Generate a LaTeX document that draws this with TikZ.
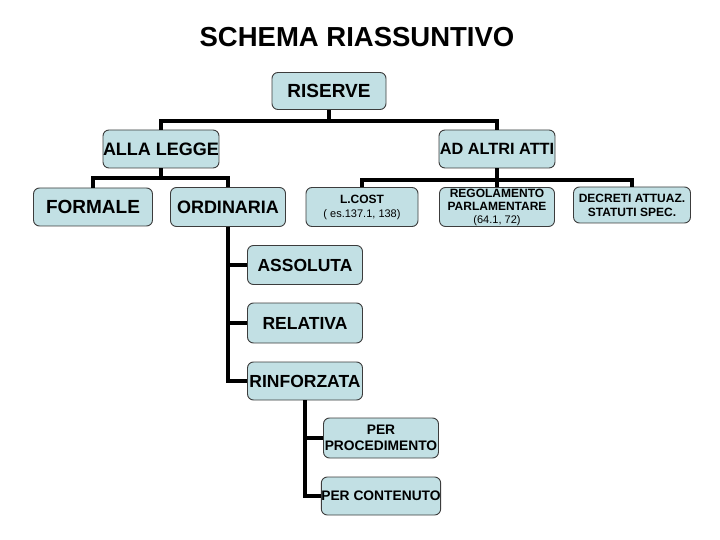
\documentclass[tikz,border=0pt]{standalone}
\usepackage{fontspec}
\setmainfont{Liberation Sans}
\usetikzlibrary{positioning}
\definecolor{boxfill}{RGB}{194,224,228}
\definecolor{boxline}{RGB}{60,60,60}
\newcommand{\fsz}[1]{\fontsize{#1}{#1}\selectfont}

\begin{document}
\begin{tikzpicture}[x=1pt, y=-1pt,
    box/.style={draw=boxline, line width=0.9pt, fill=boxfill, rounded corners=6pt,
                inner xsep=0pt, inner ysep=1pt, align=center,
                minimum width=115pt, minimum height=38pt},
    big/.style={box, font=\fsz{18}\bfseries},
    small/.style={box, font=\fsz{12}\bfseries},
    tree/.style={draw=black, line width=3.2pt}
  ]
  \useasboundingbox (0,0) rectangle (720,540);

  % title
  \node (title) at (357,37) {\fsz{27.5}\bfseries SCHEMA RIASSUNTIVO};

  % ===== top levels =====
  \node[big, font=\fsz{19}\bfseries, minimum width=114pt, minimum height=37pt] (riserve) at (329,91) {RISERVE};
  \node[big] (legge) at (161,149) {ALLA LEGGE};
  \node[big, font=\fsz{16.3}\bfseries, minimum width=116pt] (altri) at (497,149) {AD ALTRI ATTI};

  % ===== alla legge =====
  \node[big, font=\fsz{19}\bfseries, minimum width=119pt] (formale) at (93,207) {FORMALE};
  \node[big, minimum height=39pt] (ordinaria) at (228,207) {ORDINARIA};

  % ===== ad altri atti =====
  \node[small, minimum width=112pt, minimum height=39pt] (lcost) at (362,207)
    {L.COST\\[2pt]{\fsz{11}\mdseries ( es.137.1, 138)}};
  \node[small, minimum height=39pt] (regol) at (497,207)
    {REGOLAMENTO\\[1pt]PARLAMENTARE\\[1pt]{\fsz{11}\mdseries (64.1, 72)}};
  \node[small, minimum width=117pt, minimum height=36pt] (decreti) at (632,205)
    {DECRETI ATTUAZ.\\[2pt]STATUTI SPEC.};

  % ===== ordinaria =====
  \node[big, font=\fsz{17.5}\bfseries, minimum height=39pt] (assoluta) at (305,265) {ASSOLUTA};
  \node[big, font=\fsz{17.5}\bfseries, minimum height=40pt] (relativa) at (305,323) {RELATIVA};
  \node[big, font=\fsz{17.5}\bfseries] (rinforzata) at (305,381) {RINFORZATA};

  % ===== rinforzata =====
  \node[small, font=\fsz{13.8}\bfseries, minimum height=40pt] (perproc) at (381,438) {PER\\[2pt]PROCEDIMENTO};
  \node[small, font=\fsz{13.8}\bfseries] (percont) at (381,496) {PER CONTENUTO};

  % connectors
  \coordinate (busA) at (329,121);
  \coordinate (busB) at (161,178);
  \coordinate (busC) at (497,180);
  \draw[tree] (riserve.south) -- (busA) -| (legge.north);
  \draw[tree] (busA) -| (altri.north);
  \draw[tree] (legge.south) -- (busB) -| (formale.north);
  \draw[tree] (busB) -| (ordinaria.north);
  \draw[tree] (altri.south) -- (busC) -| (lcost.north);
  \draw[tree] (busC) -- (regol.north);
  \draw[tree] (busC) -| (decreti.north);
  \draw[tree] (ordinaria.south) |- (assoluta.west);
  \draw[tree] (ordinaria.south) |- (relativa.west);
  \draw[tree] (ordinaria.south) |- (rinforzata.west);
  \draw[tree] (rinforzata.south) |- (perproc.west);
  \draw[tree] (rinforzata.south) |- (percont.west);
\end{tikzpicture}
\end{document}
